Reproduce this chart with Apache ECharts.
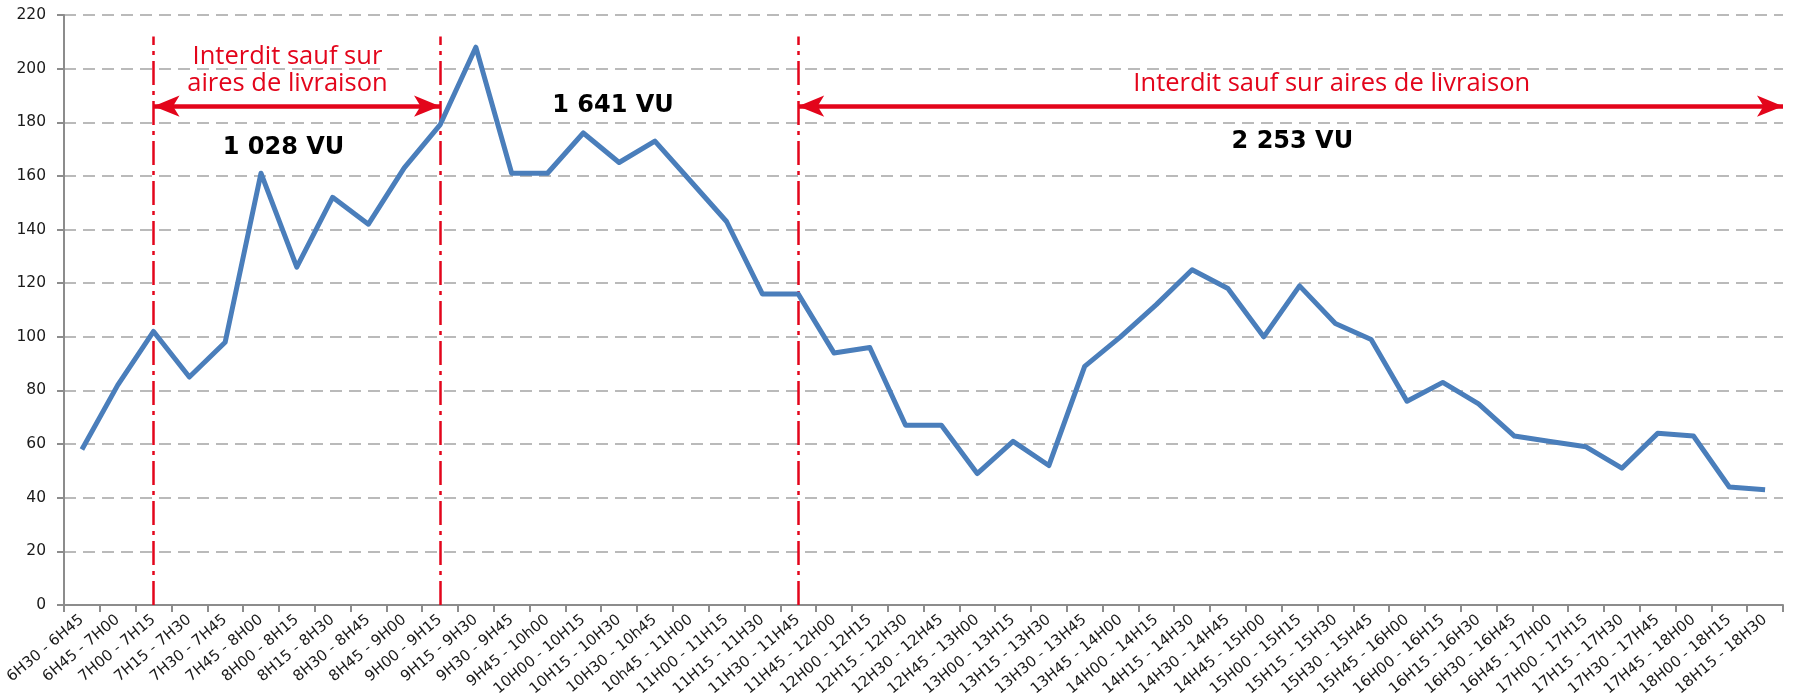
<!DOCTYPE html>
<html>
<head>
<meta charset="utf-8">
<script src="https://cdn.jsdelivr.net/npm/echarts@6/dist/echarts.min.js"></script>
<style>
  html, body { margin: 0; padding: 0; background: #fff; }
  #chart { width: 1797px; height: 700px; }
</style>
</head>
<body>
<div id="chart"></div>
<script>
// ---- data ----
const categories = [
  '6H30 - 6H45', '6H45 - 7H00', '7H00 - 7H15', '7H15 - 7H30', '7H30 - 7H45', '7H45 - 8H00',
  '8H00 - 8H15', '8H15 - 8H30', '8H30 - 8H45', '8H45 - 9H00', '9H00 - 9H15', '9H15 - 9H30',
  '9H30 - 9H45', '9H45 - 10h00', '10H00 - 10H15', '10H15 - 10H30', '10H30 - 10h45', '10h45 - 11H00',
  '11H00 - 11H15', '11H15 - 11H30', '11H30 - 11H45', '11H45 - 12H00', '12H00 - 12H15', '12H15 - 12H30',
  '12H30 - 12H45', '12H45 - 13H00', '13H00 - 13H15', '13H15 - 13H30', '13H30 - 13H45', '13H45 - 14H00',
  '14H00 - 14H15', '14H15 - 14H30', '14H30 - 14H45', '14H45 - 15H00', '15H00 - 15H15', '15H15 - 15H30',
  '15H30 - 15H45', '15H45 - 16H00', '16H00 - 16H15', '16H15 - 16H30', '16H30 - 16H45', '16H45 - 17H00',
  '17H00 - 17H15', '17H15 - 17H30', '17H30 - 17H45', '17H45 - 18H00', '18H00 - 18H15', '18H15 - 18H30'
];
const vehicles = [
  58, 82, 102, 85, 98, 161, 126, 152, 142, 163, 179, 208,
  161, 161, 176, 165, 173, 158, 143, 116, 116, 94, 96, 67,
  67, 49, 61, 52, 89, 100, 112, 125, 118, 100, 119, 105,
  99, 76, 83, 75, 63, 61, 59, 51, 64, 63, 44, 43
];
const yMin = 0, yMax = 220, yStep = 20;

// annotation anchors (in slot units along the time axis, value units vertically)
const zoneLines = [2.5, 10.5, 20.5];
const zoneLineTop = 212;
const arrowLevel = 186;
const arrows = [[2.5, 10.5], [20.5, 48]];
const notes = [
  { text: 'Interdit sauf sur\naires de livraison', x: 6.24, y: 199.5, kind: 'red' },
  { text: '1 028 VU', x: 6.13, y: 170.5, kind: 'total' },
  { text: '1 641 VU', x: 15.33, y: 186.3, kind: 'total' },
  { text: 'Interdit sauf sur aires de livraison', x: 35.4, y: 194.2, kind: 'red' },
  { text: '2 253 VU', x: 34.3, y: 172.6, kind: 'total' }
];

const RED = '#E3051B';
const chart = echarts.init(document.getElementById('chart'), null, { renderer: 'canvas' });

const option = {
  animation: false,
  backgroundColor: '#ffffff',
  grid: { left: 64, right: 14, top: 15, bottom: 95, containLabel: false, outerBoundsMode: 'none' },
  xAxis: [
    {
      type: 'category',
      data: categories,
      boundaryGap: true,
      axisLine: { lineStyle: { color: '#8C8C8C', width: 2 } },
      axisTick: { show: true, alignWithLabel: false, interval: 0, length: 7, lineStyle: { color: '#8C8C8C', width: 2 } },
      axisLabel: {
        interval: 0, rotate: 40, margin: 13,
        fontFamily: 'DejaVu Sans', fontSize: 15, color: '#1a1a1a'
      },
      splitLine: { show: false }
    },
    {
      type: 'value', min: 0, max: categories.length, show: false,
      splitLine: { show: false }
    }
  ],
  yAxis: {
    type: 'value', min: yMin, max: yMax, interval: yStep,
    axisLine: { show: true, lineStyle: { color: '#8C8C8C', width: 2 } },
    axisTick: { show: true, length: 7, lineStyle: { color: '#8C8C8C', width: 2 } },
    axisLabel: { margin: 18, fontFamily: 'DejaVu Sans', fontSize: 15.5, color: '#1a1a1a' },
    splitLine: { show: true, lineStyle: { color: '#A4A4A4', width: 1.5, type: [12, 7] } }
  },
  series: [
    {
      name: 'VU',
      type: 'line',
      data: vehicles,
      xAxisIndex: 0,
      symbol: 'none',
      lineStyle: { color: '#4A7EBB', width: 5, join: 'round' },
      z: 5
    },
    {
      name: 'zones',
      type: 'line',
      xAxisIndex: 1,
      data: [],
      silent: true,
      markLine: {
        silent: true,
        symbol: 'none',
        label: { show: false },
        lineStyle: { color: RED, width: 2.5, type: [24, 6, 4, 6] },
        data: zoneLines.map(x => [{ coord: [x, yMin] }, { coord: [x, zoneLineTop] }])
      },
      z: 4
    },
    {
      name: 'arrows',
      type: 'line',
      xAxisIndex: 1,
      data: [],
      silent: true,
      markLine: {
        silent: true,
        symbol: ['arrow', 'arrow'],
        symbolSize: [16, 26],
        label: { show: false },
        lineStyle: { color: RED, width: 4.5, type: 'solid' },
        itemStyle: { color: RED },
        data: arrows.map(a => [{ coord: [a[0], arrowLevel] }, { coord: [a[1], arrowLevel] }])
      },
      z: 6
    }
  ]
};
chart.setOption(option);

// annotation texts anchored through the hidden slot axis
const graphics = notes.map(n => {
  const p = chart.convertToPixel({ xAxisIndex: 1, yAxisIndex: 0 }, [n.x, n.y]);
  const red = n.kind === 'red';
  return {
    type: 'text',
    x: p[0], y: p[1],
    silent: true,
    z: 10,
    style: {
      text: n.text,
      x: 0, y: 0,
      align: 'center',
      verticalAlign: 'middle',
      fill: red ? RED : '#000000',
      font: red ? '25.5px "Open Sans"' : 'bold 24px "DejaVu Sans"',
      lineHeight: 27
    }
  };
});
chart.setOption({ graphic: graphics });
</script>
</body>
</html>
